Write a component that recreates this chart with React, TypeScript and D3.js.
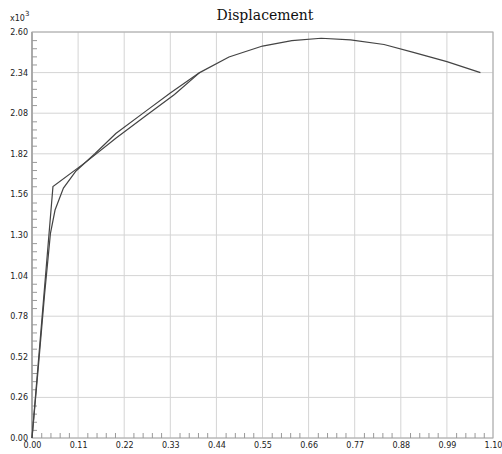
import { useEffect, useRef } from 'react';
import * as d3 from 'd3';

const WIDTH = 502;
const HEIGHT = 454;
const MARGIN = { top: 32, right: 9, bottom: 16, left: 32 };
const LABEL_FONT = "'DejaVu Sans', Verdana, sans-serif";

type Pt = { x: number; y: number };

// y values are in units of 10^3
const xTicks = [0, 0.11, 0.22, 0.33, 0.44, 0.55, 0.66, 0.77, 0.88, 0.99, 1.1];
const yTicks = [0, 0.26, 0.52, 0.78, 1.04, 1.3, 1.56, 1.82, 2.08, 2.34, 2.6];

const curveX = [0, 0.015, 0.03, 0.044, 0.055, 0.075, 0.105, 0.15, 0.2, 0.27, 0.33, 0.4, 0.47, 0.55, 0.62, 0.69, 0.76, 0.84, 0.91, 0.99, 1.07];
const curveY = [0, 0.45, 0.92, 1.31, 1.46, 1.6, 1.71, 1.82, 1.95, 2.09, 2.21, 2.34, 2.44, 2.51, 2.545, 2.56, 2.55, 2.52, 2.47, 2.41, 2.34];

const idealX = [0, 0.05, 0.13, 0.2, 0.27, 0.34, 0.4];
const idealY = [0, 1.61, 1.77, 1.92, 2.06, 2.2, 2.34];

const toPts = (xs: number[], ys: number[]): Pt[] => xs.map((x, i) => ({ x, y: ys[i] }));

export default function App() {
  const axesRef = useRef<SVGGElement>(null);
  const boundsWidth = WIDTH - MARGIN.left - MARGIN.right;
  const boundsHeight = HEIGHT - MARGIN.top - MARGIN.bottom;

  const xScale = d3.scaleLinear().domain([0, 1.1]).range([0, boundsWidth]);
  const yScale = d3.scaleLinear().domain([0, 2.6]).range([boundsHeight, 0]);

  const line = d3
    .line<Pt>()
    .x((d) => xScale(d.x))
    .y((d) => yScale(d.y));

  useEffect(() => {
    const g = d3.select(axesRef.current);
    g.selectAll('*').remove();

    // minor ticks (5 subdivisions) pointing inward
    const xMinor = d3.range(0, 50).map((i) => (i * 0.11) / 5).filter((_, i) => i % 5 !== 0);
    const yMinor = d3.range(0, 50).map((i) => (i * 0.26) / 5).filter((_, i) => i % 5 !== 0);

    g.append('g')
      .attr('transform', `translate(0,${boundsHeight})`)
      .call(d3.axisBottom(xScale).tickValues(xMinor).tickSize(-5).tickFormat(() => ''))
      .call((s) => s.select('.domain').remove())
      .selectAll('line')
      .attr('stroke', '#999');

    g.append('g')
      .call(d3.axisLeft(yScale).tickValues(yMinor).tickSize(-5).tickFormat(() => ''))
      .call((s) => s.select('.domain').remove())
      .selectAll('line')
      .attr('stroke', '#999');

    // major labels
    const xAx = g
      .append('g')
      .attr('transform', `translate(0,${boundsHeight})`)
      .call(d3.axisBottom(xScale).tickValues(xTicks).tickSize(0).tickPadding(4).tickFormat(d3.format('.2f')));
    xAx.select('.domain').remove();
    xAx.selectAll('text').attr('font-family', LABEL_FONT).attr('font-size', 8).attr('fill', '#222');

    const yAx = g
      .append('g')
      .call(d3.axisLeft(yScale).tickValues(yTicks).tickSize(0).tickPadding(4).tickFormat(d3.format('.2f')));
    yAx.select('.domain').remove();
    yAx.selectAll('text').attr('font-family', LABEL_FONT).attr('font-size', 8).attr('fill', '#222');
  }, [boundsHeight]);

  return (
    <svg width={WIDTH} height={HEIGHT} style={{ position: 'absolute', left: 0, top: 0, background: '#fff' }}>
      <text x={265} y={20} textAnchor="middle" fontFamily="'DejaVu Serif', serif" fontSize={14} fill="#111">
        Displacement
      </text>
      <text x={10} y={21} fontFamily={LABEL_FONT} fontSize={8} fill="#222">
        x10
        <tspan dy={-5} fontSize={7}>3</tspan>
      </text>
      <g transform={`translate(${MARGIN.left},${MARGIN.top})`}>
        {xTicks.map((t) => (
          <line key={'gx' + t} x1={xScale(t)} x2={xScale(t)} y1={0} y2={boundsHeight} stroke="#d4d4d4" strokeWidth={1} />
        ))}
        {yTicks.map((t) => (
          <line key={'gy' + t} x1={0} x2={boundsWidth} y1={yScale(t)} y2={yScale(t)} stroke="#d4d4d4" strokeWidth={1} />
        ))}
        <rect x={0} y={0} width={boundsWidth} height={boundsHeight} fill="none" stroke="#aaa" strokeWidth={1} />
        <line x1={0} x2={0} y1={0} y2={boundsHeight} stroke="#aaa" strokeWidth={2} />
        <g ref={axesRef} />
        <path d={line(toPts(idealX, idealY)) || ''} fill="none" stroke="#444" strokeWidth={1.2} />
        <path d={line(toPts(curveX, curveY)) || ''} fill="none" stroke="#444" strokeWidth={1.2} />
      </g>
    </svg>
  );
}
